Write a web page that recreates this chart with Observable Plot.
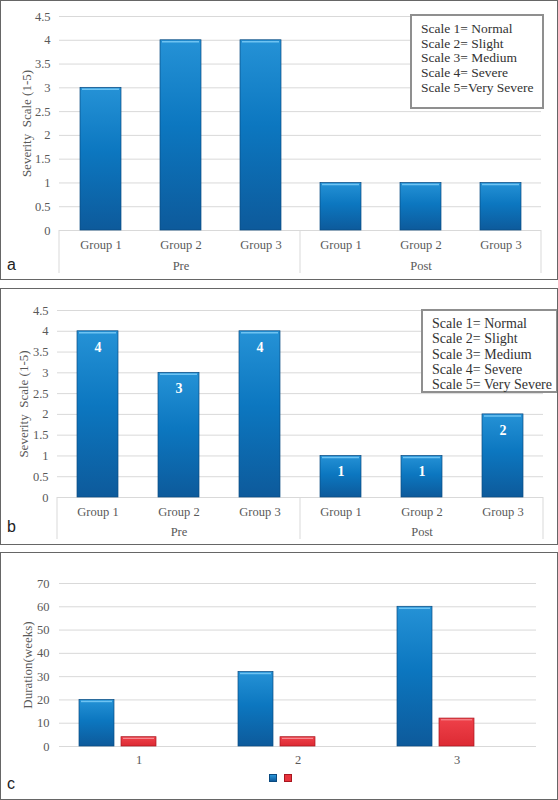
<!DOCTYPE html>
<html>
<head>
<meta charset="utf-8">
<script src="https://cdn.jsdelivr.net/npm/d3@7"></script>
<script src="https://cdn.jsdelivr.net/npm/@observablehq/plot@0.6"></script>
<style>
  html, body { margin: 0; padding: 0; background: #fff; }
  #root { position: relative; width: 558px; height: 800px; overflow: hidden; }
  .chart { position: absolute; left: 0; }
  .border { position: absolute; left: 0; width: 558px; box-sizing: border-box; border: 1.5px solid #666; pointer-events: none; }
  .legend { position: absolute; box-sizing: border-box; border: 2.5px solid #8f8f8f; background: #fff;
            font-family: "Liberation Serif", serif; color: #333; }
  .plabel { position: absolute; font-family: "Liberation Sans", Arial, sans-serif; font-size: 16px; color: #222; }
  .sw { position: absolute; width: 6px; height: 6px; }
</style>
</head>
<body>
<svg width="0" height="0" style="position:absolute">
  <defs>
    <linearGradient id="gBlue" x1="0" y1="0" x2="0" y2="1">
      <stop offset="0" stop-color="#2592d6"/>
      <stop offset="0.45" stop-color="#0c77c0"/>
      <stop offset="1" stop-color="#0d5a9b"/>
    </linearGradient>
    <linearGradient id="gRed" x1="0" y1="0" x2="0" y2="1">
      <stop offset="0" stop-color="#ef414a"/>
      <stop offset="1" stop-color="#dc2a33"/>
    </linearGradient>
  </defs>
</svg>
<div id="root"></div>
<script>
// ---------------- data ----------------
const phases = ["Pre", "Pre", "Pre", "Post", "Post", "Post"];
const groups = ["Group 1", "Group 2", "Group 3", "Group 1", "Group 2", "Group 3"];
const severityA = [3, 4, 4, 1, 1, 1];
const severityB = [4, 3, 4, 1, 1, 2];
const severityTicks = [0, 0.5, 1, 1.5, 2, 2.5, 3, 3.5, 4, 4.5];
const severityTitle = "Severity\u00a0 Scale (1-5)";
const scaleLegendA = ["Scale 1= Normal", "Scale 2= Slight", "Scale 3= Medium", "Scale 4= Severe", "Scale 5=Very Severe"];
const scaleLegendB = ["Scale 1= Normal", "Scale 2= Slight", "Scale 3= Medium", "Scale 4= Severe", "Scale 5= Very Severe"];

const durationCats = ["1", "2", "3"];
const durationSeries = ["s1", "s2", "s3"];
const durationBlue = [20, 32, 60];
const durationRed = [4, 4, 12];
const durationTicks = [0, 10, 20, 30, 40, 50, 60, 70];
const durationTitle = "Duration(weeks)";

const root = document.getElementById("root");
const keys = phases.map((p, i) => p + "|" + groups[i]);
const phaseList = ["Pre", "Post"];

function add(el, css) { Object.assign(el.style, css); root.appendChild(el); return el; }

function severityChart(values, cfg) {
  const data = keys.map((k, i) => ({ key: k, v: values[i] }));
  const phaseLabels = phaseList.map(p => ({ key: p + "|Group 2", label: p }));
  const separators = (index, scales, vals, dim) => {
    const g = d3.create("svg:g");
    const x0 = dim.marginLeft, x1 = dim.width - dim.marginRight;
    const y0 = dim.height - dim.marginBottom;
    [x0, (x0 + x1) / 2, x1].forEach(x => {
      g.append("line").attr("x1", x).attr("x2", x).attr("y1", y0).attr("y2", y0 + cfg.sepLen)
        .attr("stroke", "#d9d9d9").attr("stroke-width", 1);
    });
    return g.node();
  };
  const marks = [
    Plot.ruleY(severityTicks, { stroke: "#d9d9d9", strokeWidth: 1 }),
    Plot.axisY(severityTicks, { tickSize: 0, tickPadding: 9, tickFormat: d => String(d), fill: "#595959", fontSize: 12.5, label: null }),
    Plot.axisX({ tickSize: 0, tickPadding: 10, tickFormat: k => k.split("|")[1], fill: "#595959", fontSize: 12.5, label: null }),
    separators,
    Plot.text(phaseLabels, { x: "key", text: "label", frameAnchor: "bottom", dy: cfg.phaseDy, fill: "#595959", fontSize: 12.5 }),
    Plot.text([severityTitle], { text: d => d, frameAnchor: "left", textAnchor: "middle", rotate: -90, dx: cfg.titleDx, fill: "#595959", fontSize: 13 }),
    Plot.barY(data, { x: "key", y: "v", fill: "url(#gBlue)", stroke: "#0a4a80", strokeWidth: 0.7 }),
    Plot.tickY(data, { x: "key", y: "v", stroke: "#6ec3f2", strokeWidth: 1.5, dy: 1.5, inset: 2 })
  ];
  if (cfg.labels) {
    marks.push(Plot.text(data, { x: "key", y: "v", text: d => String(d.v), dy: 16, fill: "white", fontWeight: "bold", fontSize: 14 }));
  }
  return Plot.plot({
    width: 558, height: cfg.height,
    marginLeft: cfg.ml, marginRight: cfg.mr, marginTop: cfg.mt, marginBottom: cfg.mb,
    style: { fontFamily: "'Liberation Serif', serif", background: "transparent", overflow: "visible" },
    x: { domain: keys, paddingInner: 0.49, paddingOuter: 0.245, axis: null },
    y: { domain: [0, 4.5], axis: null },
    marks
  });
}

function legendBox(lines, css, fontSize, lineH) {
  const d = document.createElement("div");
  d.className = "legend";
  d.style.fontSize = fontSize + "px";
  d.style.lineHeight = lineH + "px";
  lines.forEach(t => { const s = document.createElement("div"); s.textContent = t; d.appendChild(s); });
  return add(d, css);
}

// ----- Panel a -----
const a = severityChart(severityA, { height: 279, ml: 59, mr: 17, mt: 16, mb: 49, sepLen: 43, phaseDy: 39, titleDx: -33, labels: false });
a.classList.add("chart");
add(a, { top: "0px" });
legendBox(scaleLegendA, { left: "410px", top: "14px", width: "134px", height: "95px", padding: "6px 0 0 9px" }, 13.5, 14.7);

// ----- Panel b -----
const b = severityChart(severityB, { height: 255, ml: 57, mr: 15, mt: 21, mb: 47, sepLen: 42, phaseDy: 38, titleDx: -34, labels: true });
b.classList.add("chart");
add(b, { top: "289px" });
legendBox(scaleLegendB, { left: "421px", top: "309px", width: "137px", height: "84px", padding: "5px 0 0 9px" }, 14, 15.3);

// ----- Panel c -----
const rows = [];
durationCats.forEach((c, i) => {
  rows.push({ cat: c, series: "s1", v: durationBlue[i] });
  rows.push({ cat: c, series: "s2", v: durationRed[i] });
});
const blueRows = rows.filter(r => r.series === "s1");
const redRows = rows.filter(r => r.series === "s2");
const c = Plot.plot({
  width: 558, height: 246,
  marginLeft: 58, marginRight: 21, marginTop: 30, marginBottom: 53,
  style: { fontFamily: "'Liberation Serif', serif", background: "transparent", overflow: "visible" },
  fx: { domain: durationCats, padding: 0, axis: null, label: null },
  x: { domain: durationSeries, paddingInner: 0.163, paddingOuter: 0.44, axis: null },
  y: { domain: [0, 70], axis: null },
  marks: [
    Plot.ruleY(durationTicks, { stroke: "#d9d9d9", strokeWidth: 1 }),
    Plot.axisY(durationTicks, { tickSize: 0, tickPadding: 10, fill: "#595959", fontSize: 12.5, label: null }),
    Plot.axisFx({ anchor: "bottom", tickSize: 0, tickPadding: 9, fill: "#595959", fontSize: 12.5, label: null }),
    Plot.text([durationTitle], { text: d => d, frameAnchor: "left", textAnchor: "middle", rotate: -90, dx: -32, fill: "#595959", fontSize: 13, facetAnchor: "left" }),
    Plot.barY(blueRows, { fx: "cat", x: "series", y: "v", fill: "url(#gBlue)", stroke: "#0a4a80", strokeWidth: 0.7 }),
    Plot.tickY(blueRows, { fx: "cat", x: "series", y: "v", stroke: "#6ec3f2", strokeWidth: 1.5, dy: 1.5, inset: 2 }),
    Plot.barY(redRows, { fx: "cat", x: "series", y: "v", fill: "url(#gRed)", stroke: "#a8161f", strokeWidth: 0.7 }),
    Plot.tickY(redRows, { fx: "cat", x: "series", y: "v", stroke: "#f58a90", strokeWidth: 1.2, dy: 1.2, inset: 2 })
  ]
});
c.classList.add("chart");
add(c, { top: "553px" });

// legend swatches (panel c)
add(Object.assign(document.createElement("div"), { className: "sw" }), { left: "269px", top: "774px", background: "linear-gradient(#2a95d8,#0d5a9b)", border: "0.5px solid #0a4a80" });
add(Object.assign(document.createElement("div"), { className: "sw" }), { left: "284px", top: "774px", background: "#e8333c", border: "0.5px solid #a8161f" });

// borders
add(Object.assign(document.createElement("div"), { className: "border" }), { top: "0px", height: "280px" });
add(Object.assign(document.createElement("div"), { className: "border" }), { top: "288px", height: "257px" });
add(Object.assign(document.createElement("div"), { className: "border" }), { top: "552px", height: "248px" });

// panel letters
add(Object.assign(document.createElement("div"), { className: "plabel", textContent: "a" }), { left: "7px", top: "256px" });
add(Object.assign(document.createElement("div"), { className: "plabel", textContent: "b" }), { left: "7px", top: "518px" });
add(Object.assign(document.createElement("div"), { className: "plabel", textContent: "c" }), { left: "7px", top: "775px" });
</script>
</body>
</html>
